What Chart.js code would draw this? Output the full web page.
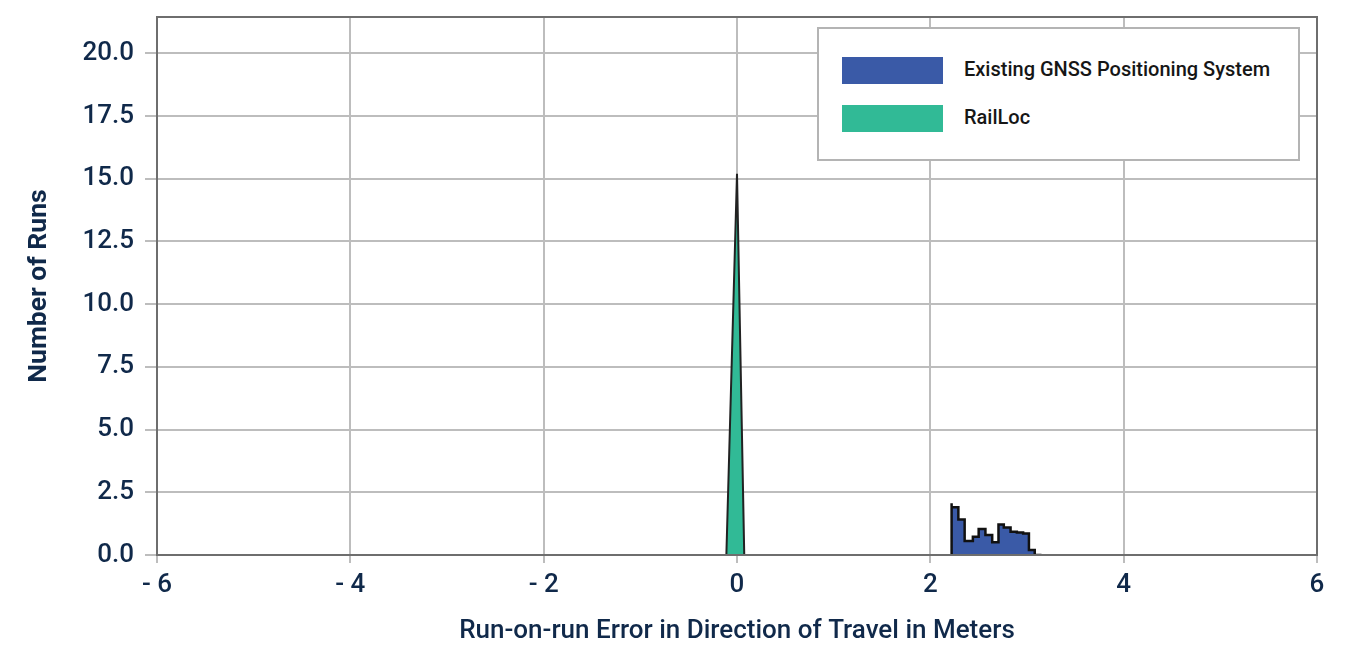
<!DOCTYPE html>
<html>
<head>
<meta charset="utf-8">
<script src="https://cdn.jsdelivr.net/npm/chart.js@4/dist/chart.umd.min.js"></script>
<style>
  html, body { margin: 0; padding: 0; background: #fff; }
  #wrap { position: relative; width: 1345px; height: 646px; }
  #legend {
    position: absolute; left: 817px; top: 27px; width: 479px; height: 130px;
    border: 2px solid #b4b4b4; background: #fff;
    font-family: Roboto, sans-serif; font-weight: 500; font-size: 20px; color: #161616;
  }
  .item { position: absolute; left: 23px; height: 27px; }
  .sw { position: absolute; left: 0; top: 0; width: 101px; height: 27px; }
  .lbl { position: absolute; left: 122px; top: -1px; line-height: 27px; white-space: nowrap; }
</style>
</head>
<body>
<div id="wrap">
  <canvas id="chart" width="1345" height="646"></canvas>
  <div id="legend">
    <div class="item" style="top:28px"><div class="sw" style="background:#3a5aa7"></div><div class="lbl">Existing GNSS Positioning System</div></div>
    <div class="item" style="top:76px"><div class="sw" style="background:#31ba96"></div><div class="lbl">RailLoc</div></div>
  </div>
</div>
<script>
// Histogramme GNSS : bords des classes et effectifs
const gnssEdges = [2.22, 2.29, 2.355, 2.44, 2.50, 2.57, 2.64, 2.705, 2.76, 2.83, 2.895, 2.96, 3.02, 3.08, 3.15];
const gnssCounts = [2.06, 1.9, 1.42, 0.56, 0.73, 1.04, 0.8, 0.51, 1.22, 1.1, 0.93, 0.9, 0.86, 0.2];

// Pic RailLoc
const railX = [-0.11, 0, 0.075];
const railY = [0, 15.2, 0];

const xTicks = [-6, -4, -2, 0, 2, 4, 6];
const yTicks = [0, 2.5, 5, 7.5, 10, 12.5, 15, 17.5, 20];

const navy = '#10294a';

// points pour le tracé en escalier
const gnssPoints = [{ x: gnssEdges[0], y: 0 }];
gnssCounts.forEach((c, i) => gnssPoints.push({ x: gnssEdges[i], y: c }));
gnssPoints.push({ x: gnssEdges[gnssEdges.length - 1], y: 0 });

const railPoints = railX.map((x, i) => ({ x: x, y: railY[i] }));

// cadre autour de la zone du graphique
const framePlugin = {
  id: 'frame',
  afterDraw(chart) {
    const a = chart.chartArea;
    const ctx = chart.ctx;
    ctx.save();
    ctx.strokeStyle = '#6e6e6e';
    ctx.lineWidth = 2;
    ctx.strokeRect(a.left, a.top, a.right - a.left, a.bottom - a.top);
    ctx.restore();
  }
};

new Chart(document.getElementById('chart'), {
  type: 'line',
  data: {
    datasets: [{
      label: 'Existing GNSS Positioning System',
      data: gnssPoints,
      stepped: 'after',
      borderColor: '#111',
      borderWidth: 2.5,
      backgroundColor: '#3a5aa7',
      fill: 'origin',
      pointRadius: 0
    }, {
      label: 'RailLoc',
      data: railPoints,
      borderColor: '#222',
      borderWidth: 2,
      backgroundColor: '#31ba96',
      fill: 'origin',
      tension: 0,
      pointRadius: 0
    }]
  },
  options: {
    responsive: false,
    animation: false,
    layout: { padding: { top: 17, right: 28, left: 0, bottom: 0 } },
    plugins: {
      legend: { display: false },
      tooltip: { enabled: false }
    },
    scales: {
      x: {
        type: 'linear',
        min: -6,
        max: 6,
        afterFit: (s) => { s.height = 91; s.paddingLeft = 0; s.paddingRight = 0; },
        afterBuildTicks: (s) => { s.ticks = xTicks.map(v => ({ value: v })); },
        grid: { color: '#bdbdbd', lineWidth: 2, tickLength: 8 },
        border: { color: '#6e6e6e', width: 2 },
        ticks: {
          color: navy,
          font: { family: 'Roboto', size: 26, weight: 500 },
          padding: 7,
          maxRotation: 0,
          callback: (v) => v < 0 ? '- ' + Math.abs(v) : String(v)
        },
        title: {
          display: true,
          text: 'Run-on-run Error in Direction of Travel in Meters',
          color: navy,
          font: { family: 'Roboto', size: 26, weight: 500 },
          padding: { top: 0, bottom: -1 }
        }
      },
      y: {
        min: 0,
        max: 21.45,
        afterFit: (s) => { s.width = 157; s.paddingTop = 0; s.paddingBottom = 0; },
        afterBuildTicks: (s) => { s.ticks = yTicks.map(v => ({ value: v })); },
        grid: { color: '#bdbdbd', lineWidth: 2, tickLength: 12 },
        border: { color: '#6e6e6e', width: 2 },
        ticks: {
          color: navy,
          font: { family: 'Roboto', size: 26, weight: 500 },
          padding: 11,
          callback: (v) => Number(v).toFixed(1)
        },
        title: {
          display: true,
          text: 'Number of Runs',
          color: navy,
          font: { family: 'Roboto', size: 26.5, weight: 'bold' },
          padding: { top: 23, bottom: 0 }
        }
      }
    }
  },
  plugins: [framePlugin]
});
</script>
</body>
</html>
